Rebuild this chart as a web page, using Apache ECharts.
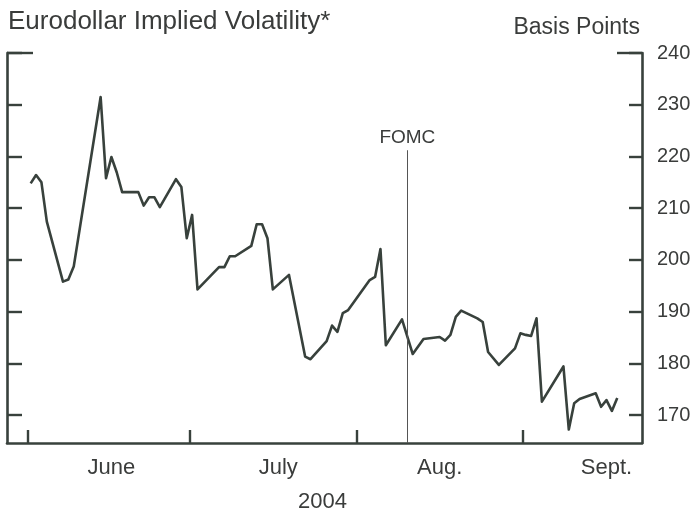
<!DOCTYPE html>
<html>
<head>
<meta charset="utf-8">
<script src="https://cdn.jsdelivr.net/npm/echarts@6/dist/echarts.min.js"></script>
<style>
  html, body { margin: 0; padding: 0; background: #fff; }
  #chart { width: 696px; height: 512px; }
</style>
</head>
<body>
<div id="chart"></div>
<script>
var dates = [
  '2004-06-01','2004-06-02','2004-06-03','2004-06-04','2004-06-07','2004-06-08','2004-06-09','2004-06-14',
  '2004-06-15','2004-06-16','2004-06-17','2004-06-18','2004-06-21','2004-06-22','2004-06-23','2004-06-24',
  '2004-06-25','2004-06-28','2004-06-29','2004-06-30',
  '2004-07-01','2004-07-02','2004-07-06','2004-07-07','2004-07-08','2004-07-09','2004-07-12','2004-07-13',
  '2004-07-14','2004-07-15','2004-07-16','2004-07-19','2004-07-22','2004-07-23','2004-07-26','2004-07-27',
  '2004-07-28','2004-07-29','2004-07-30',
  '2004-08-03','2004-08-04','2004-08-05','2004-08-06','2004-08-09','2004-08-11','2004-08-13','2004-08-16',
  '2004-08-17','2004-08-18','2004-08-19','2004-08-20','2004-08-23','2004-08-24','2004-08-25','2004-08-27',
  '2004-08-30','2004-08-31',
  '2004-09-01','2004-09-02','2004-09-03','2004-09-04','2004-09-08','2004-09-09','2004-09-10','2004-09-11',
  '2004-09-14','2004-09-15','2004-09-16','2004-09-17','2004-09-18'
];
var vol = [
  214.8, 216.4, 215.0, 207.4, 195.8, 196.2, 198.7, 231.5,
  215.8, 219.9, 216.9, 213.1, 213.1, 210.5, 212.1, 212.1,
  210.2, 215.6, 214.1, 204.2,
  208.7, 194.3, 198.6, 198.6, 200.7, 200.7, 202.7, 206.9,
  206.9, 204.2, 194.3, 197.1, 181.3, 180.8, 184.3, 187.3,
  186.1, 189.7, 190.3,
  196.1, 196.7, 202.1, 183.5, 188.5, 181.8, 184.7, 185.1,
  184.4, 185.5, 189.0, 190.2, 188.7, 188.0, 182.2, 179.7,
  182.9, 185.8,
  185.5, 185.3, 188.7, 172.6, 179.4, 167.2, 172.3, 173.1,
  174.2, 171.6, 172.9, 170.8, 173.3
];

var monthStarts = ['2004-06-01', '2004-07-01', '2004-08-01', '2004-09-01'];
var monthLabels = ['June', 'July', 'Aug.', 'Sept.'];
var monthMids = ['2004-06-16', '2004-07-17', '2004-08-16', '2004-09-16'];
var yTicks = [170, 180, 190, 200, 210, 220, 230, 240];
var fomcDate = '2004-08-10';
var fomcTop = 221.2;

var ink = '#38413c';
var textInk = '#3a3c3b';
var font = 'Liberation Sans';

// x runs in days counted from the first month start
var day0 = Date.UTC(2004, 5, 1);
function dayNo(s) {
  var p = s.split('-').map(Number);
  return Math.round((Date.UTC(p[0], p[1] - 1, p[2]) - day0) / 864e5);
}

// month boundaries sit between the last day of one month and the first of the next
var tickDays = monthStarts.map(function (s) { return dayNo(s) - 0.5; });
var labelDays = monthMids.map(dayNo);
var xMin = tickDays[0] - 3.9;
var xMax = tickDays[3] + 22.1;
var yMin = 164.6, yMax = 240;

var seriesData = dates.map(function (d, i) { return [dayNo(d), vol[i]]; });

var myChart = echarts.init(document.getElementById('chart'));

function yAxisCfg(pos, showLine, ticks, len, showLabel) {
  return {
    type: 'value',
    position: pos,
    min: yMin,
    max: yMax,
    splitLine: { show: false },
    axisLine: { show: showLine, onZero: false, lineStyle: { color: ink, width: 2.6 } },
    axisTick: {
      show: true, inside: true, length: len, customValues: ticks,
      lineStyle: { color: ink, width: 2.4 }
    },
    axisLabel: {
      show: showLabel, customValues: ticks, margin: 15,
      color: textInk, fontSize: 20, fontFamily: font
    }
  };
}

myChart.setOption({
  animation: false,
  backgroundColor: '#fff',
  title: [
    { text: 'Eurodollar Implied Volatility*', left: 8, top: 9, padding: 0,
      textStyle: { color: textInk, fontSize: 26, fontWeight: 'normal', fontFamily: font } },
    { text: 'Basis Points', right: 56, top: 16, padding: 0,
      textStyle: { color: textInk, fontSize: 23, fontWeight: 'normal', fontFamily: font } },
    { text: '2004', left: 298, top: 491, padding: 0,
      textStyle: { color: textInk, fontSize: 22, fontWeight: 'normal', fontFamily: font } }
  ],
  grid: { left: 7, right: 54, top: 53, bottom: 69, containLabel: false },
  xAxis: {
    type: 'value',
    min: xMin,
    max: xMax,
    splitLine: { show: false },
    axisLine: { show: true, onZero: false, lineStyle: { color: ink, width: 2.6 } },
    axisTick: {
      show: true, inside: true, length: 13, customValues: tickDays,
      lineStyle: { color: ink, width: 2.4 }
    },
    axisLabel: {
      customValues: labelDays, margin: 14,
      color: textInk, fontSize: 22, fontFamily: font,
      formatter: function (v) {
        var i = labelDays.indexOf(Math.round(v));
        return i < 0 ? '' : monthLabels[i];
      }
    }
  },
  yAxis: [
    yAxisCfg('right', true, yTicks, 13, true),
    yAxisCfg('left', true, yTicks, 15, false),
    yAxisCfg('right', false, [240], 25, false),
    yAxisCfg('left', false, [240], 26, false)
  ],
  series: [{
    type: 'line',
    yAxisIndex: 0,
    data: seriesData,
    showSymbol: false,
    clip: false,
    lineStyle: { color: ink, width: 2.6, join: 'round' },
    markLine: {
      silent: true,
      symbol: 'none',
      lineStyle: { color: '#555', width: 1, type: 'solid' },
      label: {
        show: true, position: 'start', distance: 3, formatter: 'FOMC',
        color: textInk, fontSize: 19, fontFamily: font
      },
      data: [[
        { coord: [dayNo(fomcDate), fomcTop] },
        { coord: [dayNo(fomcDate), yMin] }
      ]]
    }
  }]
});
</script>
</body>
</html>
